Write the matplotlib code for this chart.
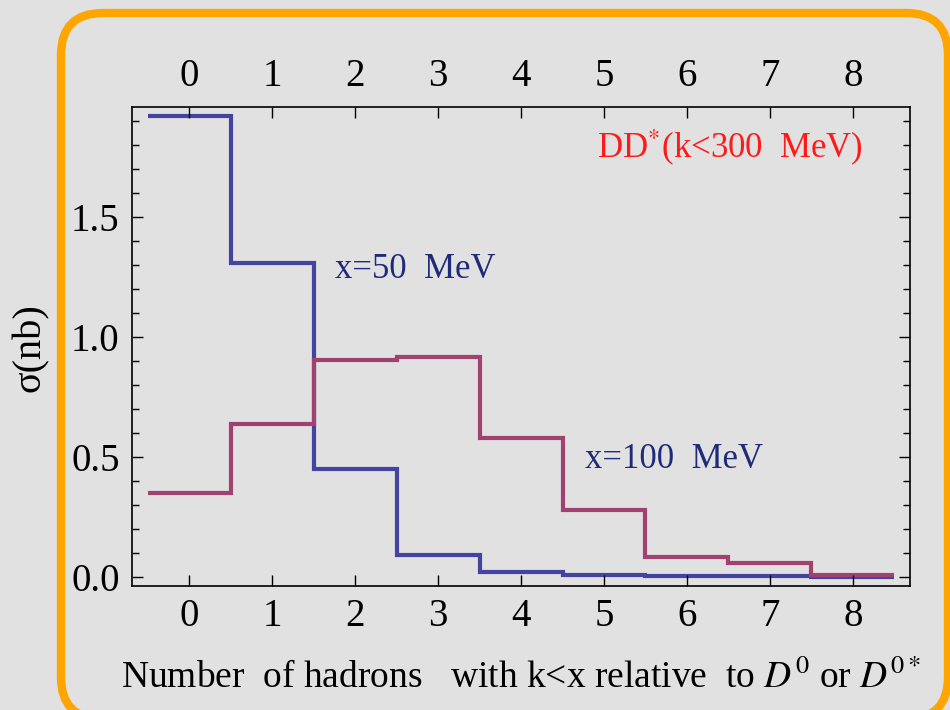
import numpy as np
import matplotlib
matplotlib.use("Agg")
import matplotlib.pyplot as plt
from matplotlib.patches import FancyBboxPatch
from matplotlib.ticker import MultipleLocator

plt.rcParams['font.family'] = ['Liberation Serif', 'DejaVu Serif']
plt.rcParams['mathtext.fontset'] = 'stix'

# number of hadrons (bin centres)
n_hadrons = [0, 1, 2, 3, 4, 5, 6, 7, 8]
# sigma (nb), x = 50 MeV
sigma_50 = [1.92, 1.31, 0.45, 0.09, 0.02, 0.006, 0.003, 0.001, 0.0]
# sigma (nb), x = 100 MeV
sigma_100 = [0.35, 0.635, 0.905, 0.915, 0.58, 0.28, 0.083, 0.057, 0.005]

x_ticks = [0, 1, 2, 3, 4, 5, 6, 7, 8]
y_ticks = [0.0, 0.5, 1.0, 1.5]

BG = '#e1e1e1'
BLUE = '#4343a0'
PURPLE = '#a1416f'

fig = plt.figure(figsize=(9.5, 7.1), dpi=100)
fig.patch.set_facecolor(BG)

# background frame, pixel coords (y up)
ax_bg = fig.add_axes([0, 0, 1, 1], zorder=0)
ax_bg.set_xlim(0, 950)
ax_bg.set_ylim(0, 710)
ax_bg.axis('off')
frame = FancyBboxPatch((61, -9), 887, 706, boxstyle='round,pad=0,rounding_size=42',
                       facecolor='none', edgecolor='#ffa500', linewidth=6, clip_on=False)
ax_bg.add_patch(frame)

ax = fig.add_axes([0.139, 0.175, 0.819, 0.674], zorder=1)
ax.set_facecolor('none')

edges = np.arange(len(n_hadrons) + 1) - 0.5
ax.stairs(sigma_50, edges, baseline=None, color=BLUE, lw=3)
ax.stairs(sigma_100, edges, baseline=None, color=PURPLE, lw=3)

ax.set_xlim(-0.69, 8.69)
ax.set_ylim(-0.038, 1.958)

ax.set_xticks(x_ticks)
ax.set_yticks(y_ticks)
ax.set_yticklabels(['%.1f' % v for v in y_ticks])
ax.yaxis.set_minor_locator(MultipleLocator(0.1))
ax.tick_params(which='both', direction='in', top=True, right=True,
               labeltop=True, labelsize=28, width=1)
ax.tick_params(which='major', length=8)
ax.tick_params(which='minor', length=5)
ax.tick_params(axis='x', pad=9)
ax.tick_params(axis='y', labelright=False, pad=9)
for sp in ax.spines.values():
    sp.set_linewidth(1.2)

ax.text(1.76, 1.28, 'x=50  MeV', color='#1f2a7a', fontsize=25, va='center')
ax.text(4.77, 0.49, 'x=100  MeV', color='#1f2a7a', fontsize=25, va='center')
ax.text(4.92, 1.79, r'DD$^{*}$(k<300  MeV)', color='#ff1a1a', fontsize=25, va='center')

ax.set_ylabel('σ(nb)', fontsize=29, va='center')
ax.yaxis.set_label_coords(-0.131, 0.497)
ax.set_xlabel(r'Number  of hadrons   with k<x relative  to $D^0$ or $D^{0*}$',
              fontsize=27, va='center')
ax.xaxis.set_label_coords(0.5, -0.192)

fig.savefig('out.png', dpi=100, facecolor=BG)
